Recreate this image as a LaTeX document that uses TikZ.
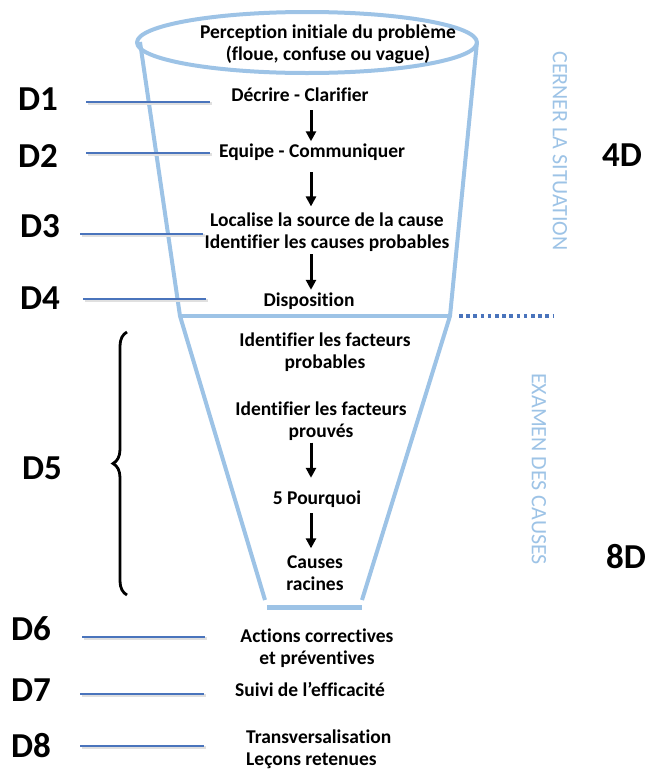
\documentclass[tikz,border=0pt]{standalone}
\usepackage{fontspec}
\setmainfont{Carlito}[Ligatures=NoCommon]
\usetikzlibrary{arrows.meta,decorations.pathreplacing}
\definecolor{entonnoir}{RGB}{157,195,230}
\definecolor{trait}{RGB}{74,116,188}

\begin{document}
\begin{tikzpicture}[x=1pt,y=-1pt,
    bord/.style={draw=entonnoir,line width=4pt,line join=round},
    repere/.style={draw=trait,line width=2.4pt,
      preaction={draw=black!12,line width=2.6pt,transform canvas={shift={(1.5pt,-1.5pt)}}}},
    etape/.style={font=\bfseries\fontsize{19.5}{22}\selectfont,align=center,inner sep=1pt},
    ligne/.style={text height=14pt,text depth=5pt},
    etiquette/.style={font=\bfseries\fontsize{35}{35}\selectfont,inner sep=0pt},
    phase/.style={font=\fontsize{22}{22}\selectfont,text=entonnoir,rotate=-90,inner sep=0pt},
    fleche/.style={line width=3pt,-{Triangle[width=10pt,length=10pt]}}]

  \useasboundingbox (0,0) rectangle (648,769);

  % entonnoir
  \draw[bord] (140,42) -- (180,316) -- (265,600);
  \draw[bord] (477,42) -- (450,316) -- (362,600);
  \draw[bord] (180,316) -- (450,316);
  \draw[bord,line width=5pt] (267,607) -- (362,607);
  \draw[bord] (307,42.5) ellipse [x radius=170, y radius=30.5];
  \draw[draw=trait,line width=3.5pt,dash pattern=on 3.5pt off 3.7pt] (459,316) -- (553,316);

  % etapes
  \node[etape] (perception) at (328,44) {Perception initiale du problème\\(floue, confuse ou vague)};
  \node[etape,ligne] (decrire) at (300,97) {Décrire - Clarifier};
  \node[etape,ligne] (equipe) at (312,153) {Equipe - Communiquer};
  \node[etape] (localiser) at (327,232) {Localise la source de la cause\\Identifier les causes probables};
  \node[etape,ligne] (disposition) at (309,302) {Disposition};
  \node[etape] (probables) at (325,352) {Identifier les facteurs\\probables};
  \node[etape] (prouves) at (321,421) {Identifier les facteurs\\prouvés};
  \node[etape,ligne] (pourquoi) at (317,500) {5 Pourquoi};
  \node[etape] (racines) at (315,573) {Causes\\racines};
  \node[etape] (actions) at (317,648) {Actions correctives\\et préventives};
  \node[etape,ligne] (suivi) at (310,692) {Suivi de l’efficacité};
  \node[etape,align=left,anchor=west] (lecons) at (245,749) {Transversalisation\\Leçons retenues};

  % fleches
  \coordinate (axe) at (311,0);
  \draw[fleche,shorten <=2.5pt,shorten >=1pt] (decrire.south -| axe) -- (equipe.north -| axe);
  \draw[fleche,shorten <=8.5pt,shorten >=5pt] (equipe.south -| axe) -- (localiser.north -| axe);
  \draw[fleche,shorten <=1.5pt,shorten >=1.5pt] (localiser.south -| axe) -- (disposition.north -| axe);
  \draw[fleche,shorten <=1pt,shorten >=11.5pt] (prouves.south -| axe) -- (pourquoi.north -| axe);
  \draw[fleche,shorten <=2.5pt,shorten >=6pt] (pourquoi.south -| axe) -- (racines.north -| axe);

  % reperes D
  \node[etiquette] (d1) at (38,99) {D1};
  \node[etiquette] (d2) at (38,156) {D2};
  \node[etiquette] (d3) at (40,226) {D3};
  \node[etiquette] (d4) at (40,298) {D4};
  \node[etiquette] (d5) at (42,468) {D5};
  \node[etiquette] (d6) at (31,629) {D6};
  \node[etiquette] (d7) at (31,690) {D7};
  \node[etiquette] (d8) at (31,746) {D8};
  \draw[repere] (86,102) -- (210,102);
  \draw[repere] (86,153) -- (210,153);
  \draw[repere] (80,234) -- (203,234);
  \draw[repere] (83,299) -- (206,299);
  \draw[repere] (82,637) -- (205,637);
  \draw[repere] (80,694) -- (204,694);
  \draw[repere] (80,746) -- (204,746);
  \draw[decorate,decoration={brace,amplitude=14pt},line width=2.8pt] (127,595) -- (127,332);

  % phases
  \node[phase] (cerner) at (560,151) {CERNER LA SITUATION};
  \node[phase] (examen) at (539,469) {EXAMEN DES CAUSES};
  \node[etiquette] (quatre) at (622,155) {4D};
  \node[etiquette] (huit) at (626,557) {8D};
\end{tikzpicture}
\end{document}
